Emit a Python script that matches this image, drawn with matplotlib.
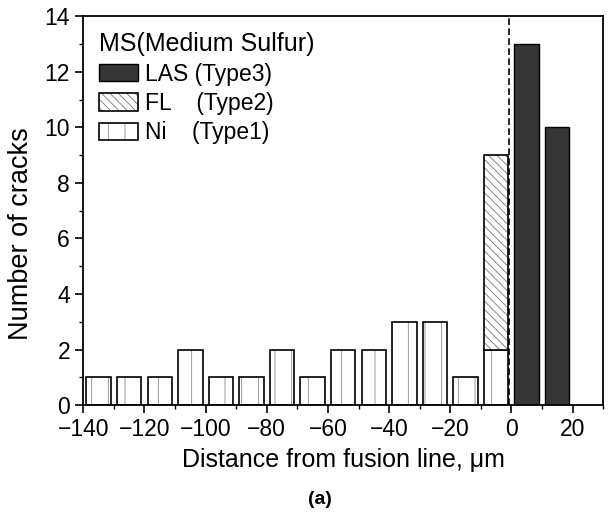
import numpy as np
import matplotlib.pyplot as plt
from matplotlib.ticker import MultipleLocator

plt.rcParams['font.family'] = ['Liberation Sans', 'DejaVu Sans']
plt.rcParams['hatch.linewidth'] = 0.6

# bin centres (um) and crack counts
ni_x = [-135, -125, -115, -105, -95, -85, -75, -65, -55, -45, -35, -25, -15, -5]
ni_n = [1, 1, 1, 2, 1, 1, 2, 1, 2, 2, 3, 3, 1, 2]
fl_x = [-5]
fl_n = [7]
las_x = [5, 15]
las_n = [13, 10]

fig = plt.figure(figsize=(6.08, 5.22), dpi=100)
ax = fig.add_axes([0.137, 0.224, 0.855, 0.745])

w = 8
# hatch layer in grey, outline drawn on top in black
h1 = ax.bar(ni_x, ni_n, width=w, color='white', edgecolor='#8a8a8a', linewidth=0,
            hatch='|')
o1 = ax.bar(ni_x, ni_n, width=w, fill=False, edgecolor='black', linewidth=1.2)
fl_base = [ni_n[ni_x.index(v)] for v in fl_x]
h2 = ax.bar(fl_x, fl_n, bottom=fl_base, width=w, color='white', edgecolor='#777777',
            linewidth=0, hatch='\\\\\\\\')
o2 = ax.bar(fl_x, fl_n, bottom=fl_base, width=w, fill=False, edgecolor='black',
            linewidth=1.2)
b3 = ax.bar(las_x, las_n, width=w, color='#363636', edgecolor='black', linewidth=1.0)

ax.axvline(-0.8, color='black', linestyle='--', linewidth=1.2, dashes=(4, 2))

ax.set_xlim(-140, 30)
ax.set_ylim(0, 14)
ax.xaxis.set_major_locator(MultipleLocator(20))
ax.xaxis.set_minor_locator(MultipleLocator(10))
ax.yaxis.set_major_locator(MultipleLocator(2))
ax.yaxis.set_minor_locator(MultipleLocator(1))
ax.tick_params(which='major', length=6, width=1.2, labelsize=16.5, direction='out')
ax.tick_params(which='minor', length=3, width=1.0, direction='out')
for s in ax.spines.values():
    s.set_linewidth(1.3)

ax.set_xlabel('Distance from fusion line, \u03bcm', fontsize=18, labelpad=5)
ax.set_ylabel('Number of cracks', fontsize=19.5)
ax.yaxis.set_label_coords(-0.094, 0.44)

leg = ax.legend(handles=[b3, (h2[0], o2[0]), (h1[0], o1[0])],
                labels=['LAS (Type3)', 'FL    (Type2)', 'Ni    (Type1)'],
                title='MS(Medium Sulfur)', loc='upper left',
                frameon=False, fontsize=16.5, title_fontsize=18, handlelength=1.7,
                handleheight=0.8, handletextpad=0.3, labelspacing=0.28,
                borderaxespad=0.3, alignment='left')

fig.text(0.527, 0.035, '(a)', fontsize=14, fontweight='bold', ha='center')

fig.savefig('out.png', dpi=100)
